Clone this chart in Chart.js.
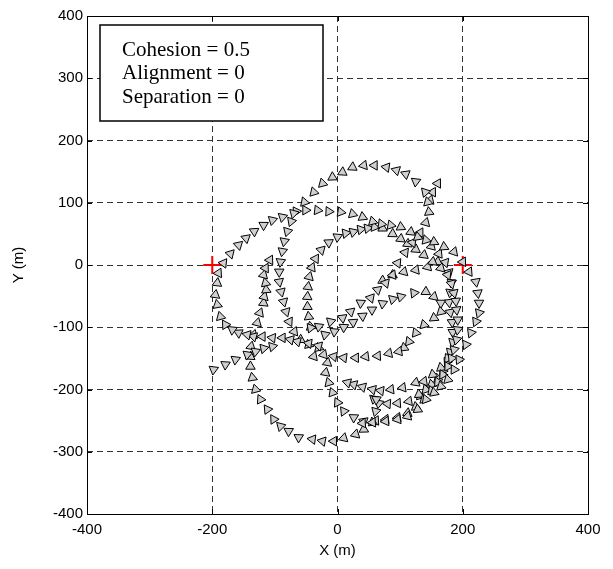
<!DOCTYPE html>
<html>
<head>
<meta charset="utf-8">
<script src="https://cdn.jsdelivr.net/npm/chart.js@4/dist/chart.umd.min.js"></script>
<style>
  body { margin: 0; background: #fff; }
</style>
</head>
<body>
<canvas id="mychart" width="613" height="569"></canvas>
<script>
// tick values
let xTicks = [-400, -200, 0, 200, 400];
let yTicks = [-400, -300, -200, -100, 0, 100, 200, 300, 400];

// red crosses (waypoints)
let waypoints = [[-200, 0], [200, 0]];

// legend text
let legendLines = ['Cohesion = 0.5', 'Alignment = 0', 'Separation = 0'];

// agent tracks, in order of travel
let agent0 = [[-198,-168],[-179,-160],[-163,-152],[-144,-144],[-131,-139],[-118,-134],[-104,-131]];

let agent1 = [[-30,-130],[-46,-126],[-64,-123],[-75,-120],[-88,-117],[-104,-117],[-120,-115],[-134,-115],[-144,-112],
  [-158,-109],[-168,-104],[-179,-96],[-187,-83],[-192,-64],[-195,-48],[-192,-29],[-190,-13],[-182,3],[-171,18],
  [-158,32],[-146,43],[-133,54],[-118,64],[-104,72],[-88,77],[-70,83],[-51,88],[-32,88],[-14,86],[5,85],[24,82],
  [40,77],[56,70],[70,66],[85,64],[101,61],[117,53],[128,45],[141,40],[154,37],[170,29],[186,21],[200,5],[210,-11],
  [221,-27],[224,-45],[226,-61],[226,-77],[221,-91],[213,-109],[205,-128],[194,-152],[186,-168],[176,-184],[165,-195],
  [154,-205],[141,-216],[128,-232],[112,-243],[96,-248],[77,-251],[56,-253],[40,-254]];

let agent2 = [[-43,-101],[-30,-99],[-11,-91],[8,-85],[21,-75],[37,-61],[53,-53],[64,-40],[77,-29],[88,-16],[96,3],
  [108,20],[120,36],[132,52],[141,68],[146,85],[144,101],[140,117],[125,134],[109,146],[94,152],[78,157],[59,160],
  [42,160],[24,157],[8,149],[-8,141],[-24,131],[-38,117],[-53,101],[-66,86],[-74,70],[-80,54],[-85,38],[-88,22],
  [-91,5],[-93,-11],[-93,-27],[-90,-43],[-86,-59],[-82,-75],[-77,-91],[-69,-107],[-59,-120],[-46,-128],[-30,-133]];

let agent3 = [[62,-216],[61,-235],[56,-253],[42,-264],[29,-272],[10,-278],[-6,-283],[-24,-283],[-40,-280],[-62,-277],
  [-78,-267],[-91,-259],[-102,-248],[-112,-232],[-123,-216],[-131,-200],[-136,-181],[-139,-163],[-139,-147],[-138,-131],
  [-134,-112],[-128,-93],[-124,-77],[-118,-61],[-117,-51],[-114,-40],[-115,-29],[-118,-16],[-115,-5],[-108,8]];

let agent4 = [[-43,-99],[-46,-83],[-48,-67],[-48,-51],[-47,-35],[-45,-19],[-41,-4],[-35,10],[-26,24],[-14,36],[0,45],
  [13,51],[25,53],[37,57],[48,59],[59,61],[72,59],[88,50],[101,42],[112,34],[125,25],[138,16],[152,5],[165,-5],
  [176,-16],[182,-30],[186,-45],[189,-58],[190,-72],[192,-88],[192,-104],[190,-120],[186,-136],[182,-150],[176,-163],
  [168,-176],[160,-188],[150,-202],[138,-216],[125,-228],[112,-238],[96,-245],[77,-248],[61,-250],[42,-251],[26,-245],
  [10,-235],[0,-221],[-8,-205],[-14,-189],[-19,-173],[-16,-157]];

let agent5 = [[-20,-112],[-5,-107],[10,-100],[25,-92],[40,-82],[55,-72],[72,-62],[88,-55],[101,-51],[122,-45],[141,-43],
  [154,-51],[165,-61],[165,-75],[154,-85],[138,-96],[125,-109],[114,-123],[106,-133],[98,-139],[82,-142],[64,-146],
  [45,-147],[29,-149],[10,-149],[-6,-147],[-22,-144],[-38,-147]];

let agent6 = [[176,-150],[165,-165],[152,-176],[138,-187],[125,-189],[104,-197],[85,-200],[69,-202],[56,-200],[40,-196],
  [26,-192],[16,-189]];

let agent7 = [[130,-208],[114,-219],[96,-222],[80,-223],[66,-222],[58,-215]];

let agent8 = [[148,104],[152,117],[160,131]];

let agent9 = [[160,5],[144,-3],[125,-8],[106,-11],[88,-16],[72,-25]];

let agent10 = [[150,30],[162,18],[172,4],[178,-12],[182,-28],[180,-44],[178,-60],[180,-76],[183,-92],[184,-108],
  [184,-124],[180,-140],[175,-156],[168,-170],[160,-182],[150,-192],[141,-200],[132,-210]];

let agents = [agent0, agent1, agent2, agent3, agent4, agent5, agent6, agent7, agent8, agent9, agent10];

// heading of each triangle = direction to the next point
function headings(pts) {
  return pts.map((p, i) => {
    let a = i < pts.length - 1 ? pts[i] : pts[i - 1];
    let b = i < pts.length - 1 ? pts[i + 1] : pts[i];
    return Math.atan2(b[0] - a[0], b[1] - a[1]) * 180 / Math.PI;
  });
}

let datasets = agents.map(pts => ({
  data: pts.map(p => ({ x: p[0], y: p[1] })),
  pointStyle: 'triangle',
  pointRadius: 5.5,
  pointHoverRadius: 5.5,
  pointRotation: headings(pts),
  backgroundColor: '#d0d0d0',
  borderColor: '#000',
  borderWidth: 1
}));

datasets.push({
  data: waypoints.map(p => ({ x: p[0], y: p[1] })),
  pointStyle: 'cross',
  pointRadius: 9,
  borderColor: '#ff0000',
  backgroundColor: '#ff0000',
  borderWidth: 2
});

// box around plot, inner tick marks and the text box
let framePlugin = {
  id: 'frame',
  afterDraw(chart) {
    let ctx = chart.ctx;
    let a = chart.chartArea;
    let xs = chart.scales.x, ys = chart.scales.y;
    ctx.save();
    ctx.strokeStyle = '#000';
    ctx.lineWidth = 1;
    ctx.setLineDash([]);
    ctx.beginPath();
    xTicks.forEach(v => {
      let px = Math.round(xs.getPixelForValue(v)) + 0.5;
      ctx.moveTo(px, a.bottom); ctx.lineTo(px, a.bottom - 5);
      ctx.moveTo(px, a.top); ctx.lineTo(px, a.top + 5);
    });
    yTicks.forEach(v => {
      let py = Math.round(ys.getPixelForValue(v)) + 0.5;
      ctx.moveTo(a.left, py); ctx.lineTo(a.left + 5, py);
      ctx.moveTo(a.right, py); ctx.lineTo(a.right - 5, py);
    });
    ctx.stroke();
    ctx.strokeRect(Math.round(a.left) + 0.5, Math.round(a.top) + 0.5, Math.round(a.right - a.left), Math.round(a.bottom - a.top));

    // text box
    let bx = a.left + 13, by = a.top + 9, bw = 223, bh = 96;
    ctx.fillStyle = '#fff';
    ctx.fillRect(bx, by, bw, bh);
    ctx.lineWidth = 1.5;
    ctx.strokeRect(bx, by, bw, bh);
    ctx.fillStyle = '#000';
    ctx.font = '21px "Liberation Serif", "Times New Roman", serif';
    ctx.textBaseline = 'middle';
    legendLines.forEach((t, i) => ctx.fillText(t, bx + 22, by + 25 + i * 23.5));
    ctx.restore();
  }
};

let mychart = document.getElementById('mychart').getContext('2d');
let obj = new Chart(mychart, {
  type: 'scatter',
  data: { datasets: datasets },
  options: {
    responsive: false,
    animation: false,
    devicePixelRatio: 1,
    layout: { padding: { top: 16, right: 25, bottom: 0, left: 0 } },
    plugins: { legend: { display: false }, tooltip: { enabled: false } },
    scales: {
      x: {
        type: 'linear', min: -400, max: 400,
        afterBuildTicks: s => { s.ticks = xTicks.map(v => ({ value: v })); },
        afterFit: s => { s.height = 55; },
        ticks: { color: '#000', padding: 7, font: { family: '"Liberation Sans", Arial', size: 15 } },
        grid: { color: '#333', lineWidth: 1, drawTicks: false },
        border: { display: false, dash: [6, 4] },
        title: { display: true, text: 'X (m)', color: '#000', padding: { top: 0, bottom: 9 },
                 font: { family: '"Liberation Sans", Arial', size: 15 } }
      },
      y: {
        type: 'linear', min: -400, max: 400,
        afterBuildTicks: s => { s.ticks = yTicks.map(v => ({ value: v })); },
        afterFit: s => { s.width = 87; },
        ticks: { color: '#000', padding: 4, font: { family: '"Liberation Sans", Arial', size: 15 } },
        grid: { color: '#333', lineWidth: 1, drawTicks: false },
        border: { display: false, dash: [6, 4] },
        title: { display: true, text: 'Y (m)', color: '#000', padding: { top: 10, bottom: 0 },
                 font: { family: '"Liberation Sans", Arial', size: 15 } }
      }
    }
  },
  plugins: [framePlugin]
});
</script>
</body>
</html>
